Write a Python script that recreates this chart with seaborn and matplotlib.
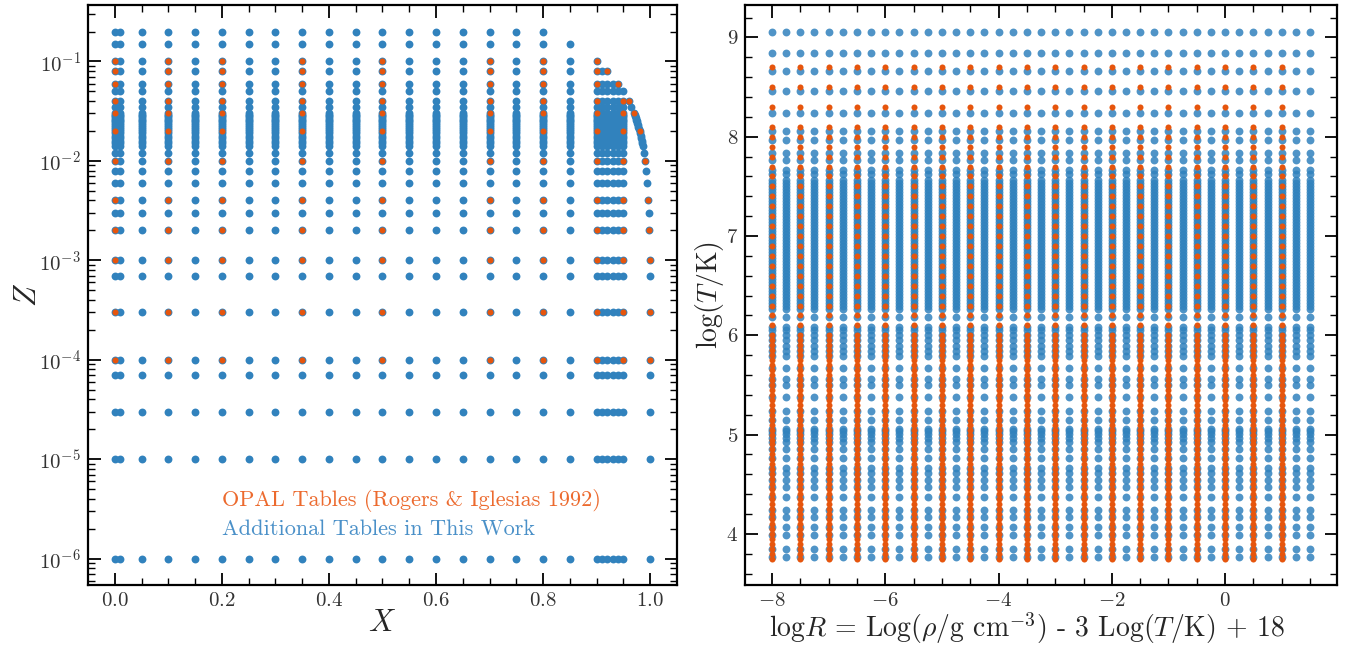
import matplotlib
matplotlib.use("Agg")
import matplotlib.pyplot as plt
import numpy as np
import pandas as pd
import seaborn as sns
from matplotlib.ticker import MultipleLocator, LogLocator, NullFormatter

# ---------------------------------------------------------------- data
# Composition grid (left panel)
Z_ROWS = [1e-6, 1e-5, 3e-5, 7e-5, 1e-4, 3e-4, 7e-4, 1e-3, 2e-3, 3e-3, 4e-3,
          6e-3, 8e-3, 0.010, 0.012,
          0.014, 0.015, 0.016, 0.017, 0.018, 0.019, 0.020, 0.021, 0.022,
          0.023, 0.024, 0.025, 0.026, 0.027, 0.028, 0.029, 0.030,
          0.035, 0.04, 0.05, 0.06, 0.08, 0.10, 0.15, 0.20]
X_COLS = [0.0, 0.01, 0.05, 0.10, 0.15, 0.20, 0.25, 0.30, 0.35, 0.40, 0.45,
          0.50, 0.55, 0.60, 0.65, 0.70, 0.75, 0.80, 0.85,
          0.90, 0.91, 0.92, 0.93, 0.94, 0.95]
Z_OPAL = [1e-4, 3e-4, 1e-3, 2e-3, 4e-3, 0.01, 0.02, 0.03, 0.04, 0.06, 0.08, 0.10]
X_OPAL = [0.0, 0.10, 0.20, 0.35, 0.50, 0.70, 0.80, 0.90, 0.95]

# Temperature / R grid (right panel)
LOGR_NEW = [-8.0, -7.75, -7.5, -7.25, -7.0, -6.75, -6.5, -6.25, -6.0, -5.75,
            -5.5, -5.25, -5.0, -4.75, -4.5, -4.25, -4.0, -3.75, -3.5, -3.25,
            -3.0, -2.75, -2.5, -2.25, -2.0, -1.75, -1.5, -1.25, -1.0, -0.75,
            -0.5, -0.25, 0.0, 0.25, 0.5, 0.75, 1.0, 1.25, 1.5]
LOGR_OPAL = [-8.0, -7.5, -7.0, -6.5, -6.0, -5.5, -5.0, -4.5, -4.0, -3.5,
             -3.0, -2.5, -2.0, -1.5, -1.0, -0.5, 0.0, 0.5, 1.0]
LOGT_NEW = [3.77, 3.85, 3.99, 4.07, 4.17, 4.24, 4.37, 4.47, 4.54, 4.61, 4.66,
            4.76, 4.85, 4.93, 4.97, 5.01, 5.04, 5.06, 5.15, 5.24, 5.38, 5.50,
            5.56, 5.67, 5.79, 5.84, 5.89, 5.95, 6.00, 6.05, 6.08, 6.18, 6.26,
            6.30, 6.33, 6.36, 6.39, 6.42, 6.45, 6.48, 6.51, 6.54, 6.57, 6.60,
            6.63, 6.66, 6.69, 6.72, 6.75, 6.78, 6.81, 6.84, 6.87, 6.90, 6.93,
            6.96, 6.99, 7.02, 7.05, 7.08, 7.11, 7.14, 7.17, 7.20, 7.23, 7.26,
            7.29, 7.32, 7.35, 7.38, 7.41, 7.44, 7.47, 7.50, 7.53, 7.56,
            7.62, 7.67, 7.77, 7.84, 7.97, 8.06, 8.24, 8.46, 8.66, 8.84, 9.06]
LOGT_OPAL = [3.75, 3.80, 3.85, 3.90, 3.95, 4.00, 4.05, 4.10, 4.15, 4.20,
             4.25, 4.30, 4.35, 4.40, 4.45, 4.50, 4.55, 4.60, 4.65, 4.70,
             4.75, 4.80, 4.85, 4.90, 4.95, 5.00, 5.05, 5.10, 5.15, 5.20,
             5.25, 5.30, 5.35, 5.40, 5.45, 5.50, 5.55, 5.60, 5.65, 5.70,
             5.75, 5.80, 5.85, 5.90, 5.95, 6.00, 6.10, 6.20, 6.30, 6.40,
             6.50, 6.60, 6.70, 6.80, 6.90, 7.00, 7.10, 7.20, 7.30, 7.40,
             7.50, 7.60, 7.70, 7.80, 7.90, 8.00, 8.10, 8.30, 8.50, 8.70]

BLUE = "#3182bd"
ORANGE = "#e6550d"


def composition_table(z_rows, x_cols):
    """All (X, Z) pairs with X + Z <= 1, including the X = 1 - Z edge."""
    pts = set()
    for z in z_rows:
        for x in list(x_cols) + [1.0 - z]:
            if x + z <= 1.0 + 1e-9:
                pts.add((round(x, 8), z))
    return pd.DataFrame(sorted(pts), columns=["X", "Z"])


def rt_table(logr, logt):
    return pd.DataFrame([(r, t) for r in logr for t in logt],
                        columns=["logR", "logT"])


comp_new = composition_table(Z_ROWS, X_COLS)
comp_opal = composition_table(Z_OPAL, X_OPAL)
rt_new = rt_table(LOGR_NEW, LOGT_NEW)
rt_opal = rt_table(LOGR_OPAL, LOGT_OPAL)

# ---------------------------------------------------------------- style
sns.set_theme(style="ticks")
plt.rcParams.update({
    "font.family": "serif",
    "font.serif": ["cmr10"],
    "mathtext.fontset": "cm",
    "axes.formatter.use_mathtext": True,
    "axes.unicode_minus": True,
    "axes.linewidth": 1.6,
    "axes.edgecolor": "black",
    "xtick.color": "black",
    "ytick.color": "black",
    "text.color": "#222222",
})

fig = plt.figure(figsize=(13.47, 6.45), dpi=100)
ax1 = fig.add_axes([0.0653, 0.093, 0.4373, 0.899])
ax2 = fig.add_axes([0.5531, 0.093, 0.4395, 0.899])

# ---------------------------------------------------------------- left: X-Z
ax1.set_yscale("log")
sns.scatterplot(data=comp_new, x="X", y="Z", ax=ax1, color=BLUE, s=32,
                linewidth=0, label="Additional Tables in This Work", zorder=2)
sns.scatterplot(data=comp_opal, x="X", y="Z", ax=ax1, color=ORANGE, s=19,
                linewidth=0, label="OPAL Tables (Rogers & Iglesias 1992)",
                zorder=3)
ax1.set_xlabel(r"$X$", fontsize=22, labelpad=0)
ax1.set_ylabel(r"$Z$", fontsize=22, labelpad=-2)
ax1.xaxis.set_major_locator(MultipleLocator(0.2))
ax1.xaxis.set_minor_locator(MultipleLocator(0.05))
ax1.yaxis.set_major_locator(LogLocator(base=10, numticks=20))
ax1.yaxis.set_minor_locator(LogLocator(base=10, subs=np.arange(2, 10), numticks=20))
ax1.yaxis.set_minor_formatter(NullFormatter())

handles, labels = ax1.get_legend_handles_labels()
leg = ax1.legend(handles[::-1], labels[::-1], loc="lower left",
                 bbox_to_anchor=(0.2275, 0.080), frameon=False,
                 handlelength=0, handletextpad=0, borderpad=0,
                 borderaxespad=0, labelspacing=0.32, fontsize=16)
for h in leg.legend_handles:
    h.set_visible(False)
for txt, col in zip(leg.get_texts(), ["#ec6a2e", "#4a90c8"]):
    txt.set_color(col)

# ---------------------------------------------------------------- right: R-T
sns.scatterplot(data=rt_new, x="logR", y="logT", ax=ax2, color=BLUE, s=32,
                linewidth=0, alpha=0.85, zorder=2)
sns.scatterplot(data=rt_opal, x="logR", y="logT", ax=ax2, color=ORANGE,
                s=19, linewidth=0, zorder=3)
ax2.set_xlabel(r"$\log\!R$ = Log($\rho$/g cm$^{-3}$) - 3 Log($T$/K) + 18",
               fontsize=20, labelpad=0)
ax2.xaxis.set_label_coords(0.477, -0.044)
ax2.set_ylabel(r"$\log (T/\mathrm{K})$", fontsize=20, labelpad=0)
ax2.xaxis.set_major_locator(MultipleLocator(2))
ax2.xaxis.set_minor_locator(MultipleLocator(0.5))
ax2.yaxis.set_major_locator(MultipleLocator(1))
ax2.yaxis.set_minor_locator(MultipleLocator(0.2))

for ax in (ax1, ax2):
    ax.tick_params(which="both", direction="in", top=True, right=True,
                   labelsize=15, colors="black", labelcolor="#333333")
    ax.tick_params(which="major", length=9, width=1.3, pad=5)
    ax.tick_params(which="minor", length=5, width=1.0)
    for sp in ax.spines.values():
        sp.set_linewidth(1.6)

fig.savefig("out.png", dpi=100)
